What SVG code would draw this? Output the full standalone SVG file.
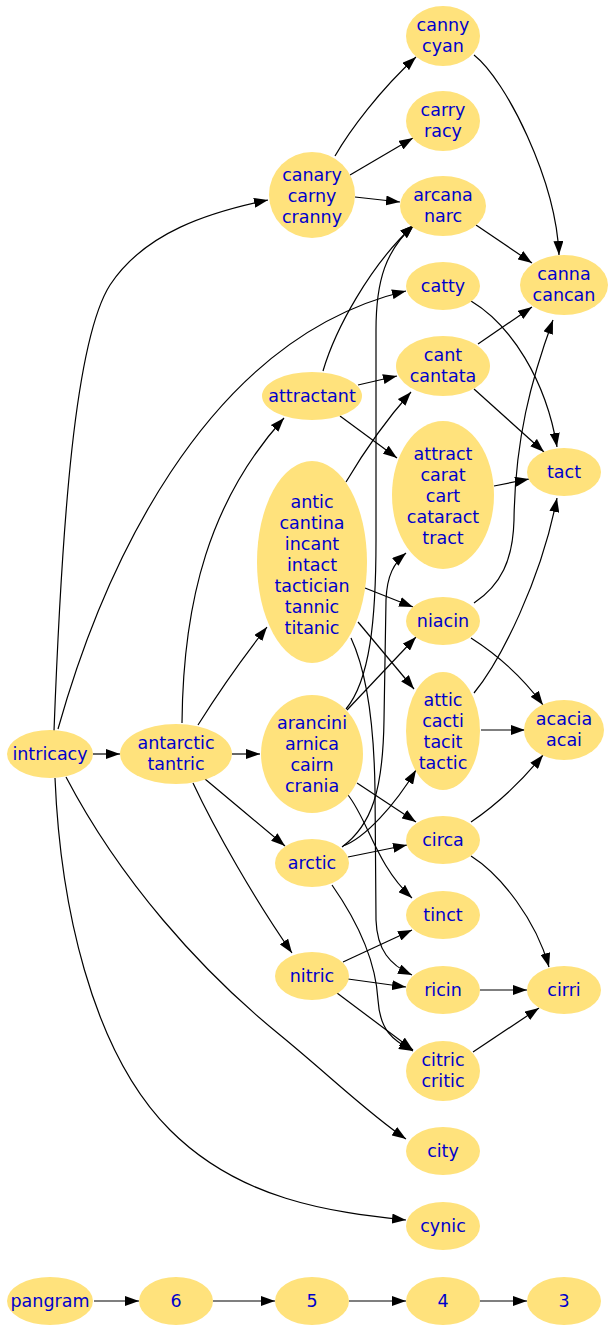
<svg xmlns="http://www.w3.org/2000/svg" width="615" height="1332" viewBox="0 0 615 1332">
<defs>
<marker id="ah" viewBox="0 0 14 10" refX="14" refY="5" markerWidth="14" markerHeight="10" markerUnits="userSpaceOnUse" orient="auto">
<path d="M0,0 L14,5 L0,10 Z" fill="#000"/>
</marker>
</defs>
<style>
.n ellipse{fill:#ffe27c;stroke:none}
.n text{font-family:"DejaVu Sans","Verdana",sans-serif;font-size:17.5px;fill:#0000cc;text-anchor:middle}
#edges path{fill:none;stroke:#000;stroke-width:1.2;marker-end:url(#ah)}
</style>
<rect width="615" height="1332" fill="#fff"/>
<g id="edges">
<path d="M54,731 C62,520 75,340 110,285 C145,232 210,212 268,200"/>
<path d="M58,729 C100,580 200,340 406,291"/>
<path d="M93,754 L120,754"/>
<path d="M66,777 C120,880 200,970 280,1035 C330,1076 370,1115 406,1139"/>
<path d="M55,778 C60,900 90,1050 170,1130 C240,1200 330,1212 406,1220"/>
<path d="M335,156 C350,130 380,90 416,57"/>
<path d="M350,175 L413,138"/>
<path d="M355,197 L400,202"/>
<path d="M474,55 C506,80 556,180 559,255"/>
<path d="M476,225 L532,263"/>
<path d="M471,301 C511,325 546,380 557,447"/>
<path d="M478,344 L532,307"/>
<path d="M474,389 L544,452"/>
<path d="M494,486 L529,479"/>
<path d="M474,603 C501,585 513,560 514,520 C515,440 531,380 553,320"/>
<path d="M471,638 C496,654 521,675 543,705"/>
<path d="M481,730 L525,730"/>
<path d="M474,693 C501,660 541,580 557,498"/>
<path d="M471,822 C496,805 521,782 543,755"/>
<path d="M471,856 C501,875 536,920 549,967"/>
<path d="M480,990 L527,990"/>
<path d="M473,1052 L539,1008"/>
<path d="M323,371 C335,330 370,265 414,225"/>
<path d="M346,709 C370,680 376,620 376,540 L376,330 C376,280 386,250 414,225"/>
<path d="M342,847 C372,825 383,790 384,720 L386,600 C387,575 394,563 406,553"/>
<path d="M351,638 C366,670 374,720 375,790 L376,920 C377,950 390,965 412,975"/>
<path d="M348,795 C368,820 376,865 412,898"/>
<path d="M332,885 C360,925 376,965 378,1000 C380,1030 392,1040 413,1051"/>
<path d="M337,993 L413,1050"/>
<path d="M348,979 L406,987"/>
<path d="M343,962 L412,930"/>
<path d="M193,783 C215,830 255,900 292,953"/>
<path d="M205,779 C230,800 260,825 285,846"/>
<path d="M232,754 L260,754"/>
<path d="M198,725 C220,690 245,655 267,627"/>
<path d="M182,723 C183,600 210,500 284,418"/>
<path d="M358,385 L397,376"/>
<path d="M340,416 L397,458"/>
<path d="M346,482 C365,450 386,420 411,392"/>
<path d="M365,588 L413,607"/>
<path d="M358,622 L414,689"/>
<path d="M347,710 L416,637"/>
<path d="M357,783 L416,822"/>
<path d="M348,857 L407,845"/>
<path d="M343,846 C365,838 395,805 416,770"/>
<path d="M94,1301 L139,1301"/>
<path d="M213,1301 L275,1301"/>
<path d="M349,1301 L406,1301"/>
<path d="M480,1301 L527,1301"/>
</g>
<g id="canny" class="n"><ellipse cx="443" cy="36" rx="37" ry="30"/><text x="443" y="31">canny</text><text x="443" y="52">cyan</text></g>
<g id="carry" class="n"><ellipse cx="443" cy="121" rx="37" ry="30"/><text x="443" y="116">carry</text><text x="443" y="137">racy</text></g>
<g id="canary" class="n"><ellipse cx="312" cy="195" rx="43" ry="43"/><text x="312" y="181">canary</text><text x="312" y="202">carny</text><text x="312" y="223">cranny</text></g>
<g id="arcana" class="n"><ellipse cx="443" cy="206" rx="43" ry="30"/><text x="443" y="201">arcana</text><text x="443" y="222">narc</text></g>
<g id="catty" class="n"><ellipse cx="443" cy="286" rx="37" ry="24"/><text x="443" y="292">catty</text></g>
<g id="canna" class="n"><ellipse cx="564" cy="285" rx="44" ry="30"/><text x="564" y="280">canna</text><text x="564" y="301">cancan</text></g>
<g id="attractant" class="n"><ellipse cx="312" cy="396" rx="50" ry="24"/><text x="312" y="402">attractant</text></g>
<g id="cant" class="n"><ellipse cx="443" cy="366" rx="47" ry="30"/><text x="443" y="361">cant</text><text x="443" y="382">cantata</text></g>
<g id="attract" class="n"><ellipse cx="443" cy="495" rx="51" ry="74"/><text x="443" y="460">attract</text><text x="443" y="481">carat</text><text x="443" y="502">cart</text><text x="443" y="523">cataract</text><text x="443" y="544">tract</text></g>
<g id="tact" class="n"><ellipse cx="564" cy="472" rx="37" ry="24"/><text x="564" y="478">tact</text></g>
<g id="antic" class="n"><ellipse cx="312" cy="562" rx="55" ry="101"/><text x="312" y="507.5">antic</text><text x="312" y="528.5">cantina</text><text x="312" y="549.5">incant</text><text x="312" y="570.5">intact</text><text x="312" y="591.5">tactician</text><text x="312" y="612.5">tannic</text><text x="312" y="633.5">titanic</text></g>
<g id="niacin" class="n"><ellipse cx="443" cy="621" rx="37" ry="24"/><text x="443" y="627">niacin</text></g>
<g id="attic" class="n"><ellipse cx="443" cy="731" rx="37" ry="59"/><text x="443" y="706">attic</text><text x="443" y="727">cacti</text><text x="443" y="748">tacit</text><text x="443" y="769">tactic</text></g>
<g id="acacia" class="n"><ellipse cx="564" cy="730" rx="40" ry="30"/><text x="564" y="725">acacia</text><text x="564" y="746">acai</text></g>
<g id="intricacy" class="n"><ellipse cx="50" cy="754" rx="43" ry="24"/><text x="50" y="760">intricacy</text></g>
<g id="antarctic" class="n"><ellipse cx="176" cy="754" rx="56" ry="30"/><text x="176" y="749">antarctic</text><text x="176" y="770">tantric</text></g>
<g id="arancini" class="n"><ellipse cx="312" cy="754" rx="51" ry="59"/><text x="312" y="729">arancini</text><text x="312" y="750">arnica</text><text x="312" y="771">cairn</text><text x="312" y="792">crania</text></g>
<g id="circa" class="n"><ellipse cx="443" cy="840" rx="37" ry="24"/><text x="443" y="846">circa</text></g>
<g id="arctic" class="n"><ellipse cx="312" cy="863" rx="37" ry="24"/><text x="312" y="869">arctic</text></g>
<g id="tinct" class="n"><ellipse cx="443" cy="915" rx="37" ry="24"/><text x="443" y="921">tinct</text></g>
<g id="nitric" class="n"><ellipse cx="312" cy="976" rx="37" ry="24"/><text x="312" y="982">nitric</text></g>
<g id="ricin" class="n"><ellipse cx="443" cy="990" rx="37" ry="24"/><text x="443" y="996">ricin</text></g>
<g id="cirri" class="n"><ellipse cx="564" cy="990" rx="37" ry="24"/><text x="564" y="996">cirri</text></g>
<g id="citric" class="n"><ellipse cx="443" cy="1071" rx="37" ry="30"/><text x="443" y="1066">citric</text><text x="443" y="1087">critic</text></g>
<g id="city" class="n"><ellipse cx="443" cy="1151" rx="37" ry="24"/><text x="443" y="1157">city</text></g>
<g id="cynic" class="n"><ellipse cx="443" cy="1226" rx="37" ry="24"/><text x="443" y="1232">cynic</text></g>
<g id="pangram" class="n"><ellipse cx="50" cy="1301" rx="43" ry="24"/><text x="50" y="1307">pangram</text></g>
<g id="n6" class="n"><ellipse cx="176" cy="1301" rx="37" ry="24"/><text x="176" y="1307">6</text></g>
<g id="n5" class="n"><ellipse cx="312" cy="1301" rx="37" ry="24"/><text x="312" y="1307">5</text></g>
<g id="n4" class="n"><ellipse cx="443" cy="1301" rx="37" ry="24"/><text x="443" y="1307">4</text></g>
<g id="n3" class="n"><ellipse cx="564" cy="1301" rx="37" ry="24"/><text x="564" y="1307">3</text></g>
</svg>
